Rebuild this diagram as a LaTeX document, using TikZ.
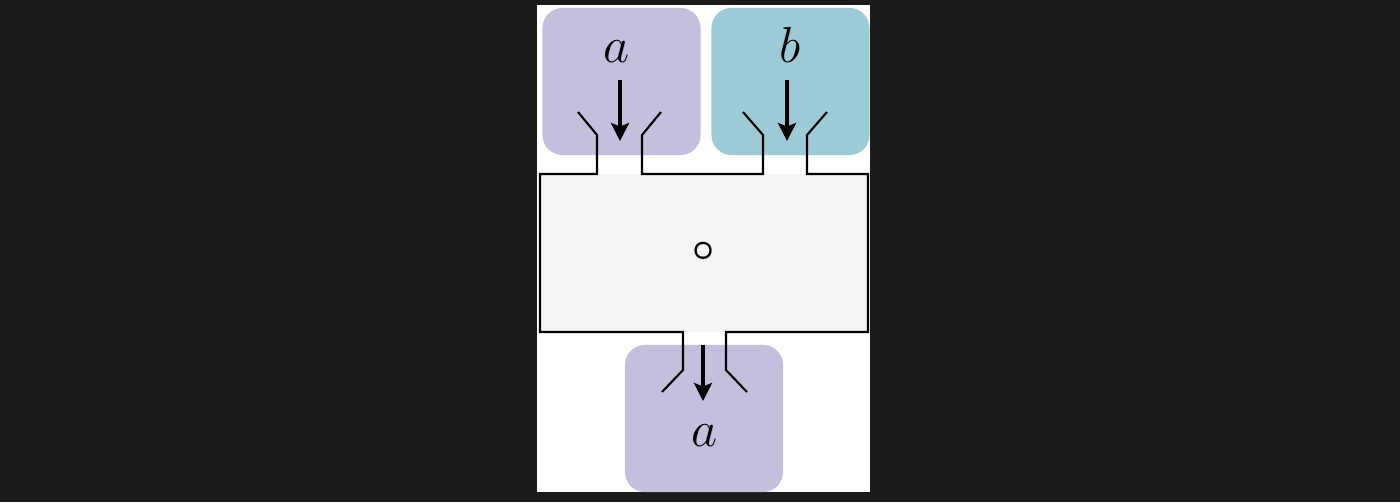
\documentclass[tikz,border=0pt]{standalone}
\usepackage{tikz}
\usepackage{bm}
\usetikzlibrary{arrows.meta}

\definecolor{pagedark}{HTML}{1B1B1B}
\definecolor{tilepurple}{HTML}{C5BEDD}
\definecolor{tileteal}{HTML}{9CCBD6}
\definecolor{opgray}{HTML}{F4F4F4}

\begin{document}
\begin{tikzpicture}[
    x=0.01cm, y=-0.01cm,
    tile/.style={rounded corners=0.2cm, inner sep=0pt, minimum width=1.58cm, minimum height=1.47cm},
    sym/.style={inner sep=0pt, anchor=base, font=\fontsize{15}{18}\selectfont},
    flow/.style={-{Stealth[length=1.8mm, width=1.8mm, inset=0.35mm]}, line width=0.95pt},
    wire/.style={line width=0.6pt, line join=miter}
]
% page and panel
\fill[pagedark] (0,0) rectangle (1400,502);
\fill[white] (537,5) rectangle (870,492);

% input and output tiles
\node[tile, fill=tilepurple] (tileA) at (621.5,81.5) {};
\node[tile, fill=tileteal] (tileB) at (790.5,81.5) {};
\node[tile, fill=tilepurple] (tileOut) at (704,418.5) {};
\node[sym] (labA) at (617,62) {$a$};
\node[sym] (labB) at (790,62) {$b$};
\node[sym] (labOut) at (705,446) {$a$};

% operation box
\node[fill=opgray, inner sep=0pt, minimum width=3.28cm, minimum height=1.58cm] (op) at (704,253) {};
\node[inner sep=0pt, font=\fontsize{11}{13}\selectfont] (comp) at (704,251) {$\bm{\circ}$};

% outline with ports
\draw[wire] (578,112) -- (597,135) -- (597,174) -- (540,174) -- (540,332) -- (683,332) -- (683,370) -- (662,392);
\draw[wire] (661,112) -- (642,135) -- (642,174) -- (763,174) -- (763,135) -- (743,112);
\draw[wire] (827,112) -- (807,135) -- (807,174) -- (868,174) -- (868,332) -- (726,332) -- (726,370) -- (747,392);

% flows
\coordinate (inA) at (620,80);
\coordinate (portA) at (620,141);
\coordinate (inB) at (787,80);
\coordinate (portB) at (787,141);
\coordinate (portOut) at (703,345);
\coordinate (outA) at (703,401);
\draw[flow] (inA) -- (portA);
\draw[flow] (inB) -- (portB);
\draw[flow] (portOut) -- (outA);
\end{tikzpicture}
\end{document}
